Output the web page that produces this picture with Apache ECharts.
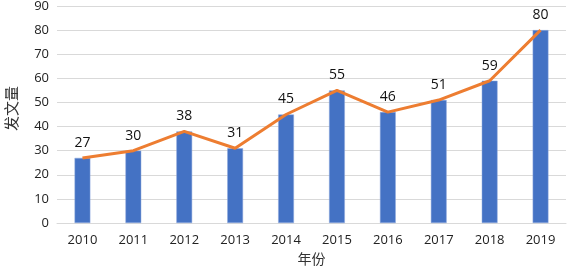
<!DOCTYPE html>
<html>
<head>
<meta charset="utf-8">
<script src="https://cdn.jsdelivr.net/npm/echarts@6/dist/echarts.min.js"></script>
<style>
  html, body { margin: 0; padding: 0; background: #fff; }
  #main { width: 567px; height: 267px; }
</style>
</head>
<body>
<div id="main"></div>
<script>
var years = ["2010", "2011", "2012", "2013", "2014", "2015", "2016", "2017", "2018", "2019"];
var counts = [27, 30, 38, 31, 45, 55, 46, 51, 59, 80];
var yTicks = { min: 0, max: 90, interval: 10 };

var font = "'Open Sans', 'Noto Sans', sans-serif";

var myChart = echarts.init(document.getElementById("main"), null, { renderer: "canvas" });

var option = {
  animation: false,
  grid: { left: 57, right: 1, top: 6, bottom: 44, outerBoundsMode: "none", containLabel: false },
  xAxis: {
    type: "category",
    data: years,
    name: "年份",
    nameLocation: "middle",
    nameGap: 26,
    nameTextStyle: { fontFamily: "'Noto Sans CJK SC'", fontSize: 14, color: "#333" },
    axisLine: { lineStyle: { color: "#d9d9d9", width: 1 } },
    axisTick: { show: false },
    axisLabel: { fontFamily: font, fontSize: 13, color: "#222", margin: 11 }
  },
  yAxis: {
    type: "value",
    min: yTicks.min,
    max: yTicks.max,
    interval: yTicks.interval,
    name: "发文量",
    nameLocation: "middle",
    nameGap: 38,
    nameTextStyle: { fontFamily: "'Noto Sans CJK SC'", fontSize: 15, color: "#333", padding: [0, 0, 0, 12] },
    axisLine: { show: false },
    axisTick: { show: false },
    axisLabel: { fontFamily: font, fontSize: 13, color: "#222", margin: 8 },
    splitLine: { lineStyle: { color: "#d9d9d9", width: 1 } }
  },
  series: [
    {
      type: "bar",
      data: counts,
      barWidth: "31%",
      itemStyle: { color: "#4472C4", borderColor: "#8fa9dc", borderWidth: 0.5 },
      label: {
        show: true,
        position: "top",
        distance: 8,
        fontFamily: font,
        fontSize: 14,
        color: "#111"
      }
    },
    {
      type: "line",
      data: counts,
      symbol: "none",
      lineStyle: { color: "#ED7D31", width: 3 },
      z: 3
    }
  ]
};

myChart.setOption(option);
</script>
</body>
</html>
